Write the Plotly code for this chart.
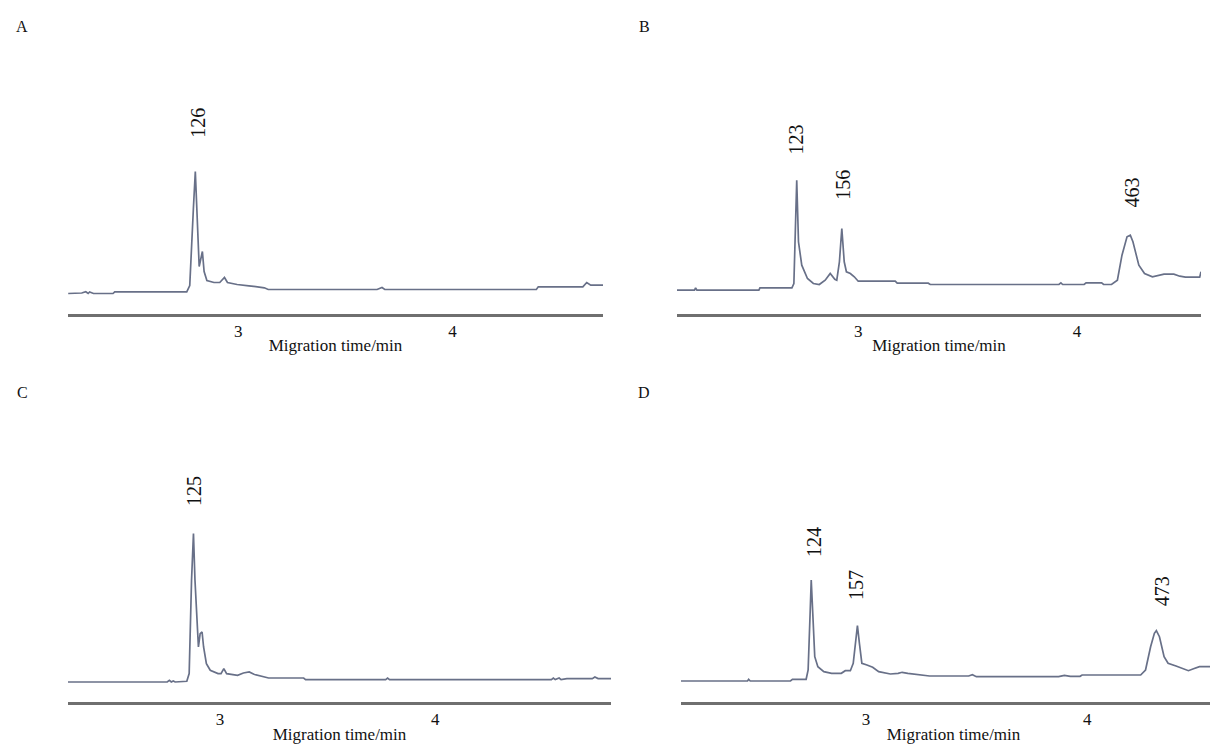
import plotly.graph_objects as go

# ---------------- data (migration time / min, signal / a.u.) ----------------
a_time = [2.207, 2.270, 2.289, 2.300, 2.307, 2.325, 2.416, 2.424, 2.760, 2.774, 2.791, 2.800,
          2.807, 2.814, 2.818, 2.833, 2.841, 2.854, 2.887, 2.914, 2.936, 2.950, 2.995, 3.050,
          3.122, 3.140, 3.648, 3.671, 3.684, 4.391, 4.400, 4.608, 4.626, 4.645, 4.702]
a_signal = [20, 20.5, 21.7, 20, 21.5, 20, 20, 21.7, 21.7, 28, 105, 142,
            105, 52, 47, 62, 42, 33, 31, 31, 36, 31, 29, 27.7,
            25.7, 24, 24, 26, 24, 24, 26.7, 26.7, 31, 28.3, 28.3]

b_time = [2.172, 2.252, 2.257, 2.263, 2.546, 2.551, 2.697, 2.706, 2.719, 2.727, 2.742, 2.768,
          2.795, 2.822, 2.849, 2.872, 2.893, 2.902, 2.914, 2.925, 2.936, 2.946, 2.964, 2.982,
          3.000, 3.169, 3.178, 3.320, 3.329, 3.917, 3.926, 3.934, 4.032, 4.041, 4.112, 4.121,
          4.157, 4.184, 4.205, 4.228, 4.243, 4.255, 4.282, 4.308, 4.344, 4.371, 4.397, 4.442,
          4.469, 4.495, 4.560, 4.566]
b_signal = [23.3, 23.3, 25.7, 23.3, 23.3, 25.7, 25.7, 30, 133.3, 71.7, 48.3, 35,
            30, 29, 33.3, 40, 34.3, 33.3, 51.7, 85, 51.7, 41.7, 40, 36.7,
            32.3, 32.3, 30.3, 30.3, 29, 29, 30.7, 29, 29, 30.7, 30.7, 29,
            29, 33.3, 58.3, 76.7, 78.3, 71.7, 48.3, 40, 36.7, 38.3, 39.3, 39.3,
            37.3, 36.3, 36.3, 41.7]

c_time = [2.294, 2.755, 2.765, 2.774, 2.783, 2.792, 2.846, 2.857, 2.868, 2.877, 2.884, 2.893,
          2.900, 2.908, 2.917, 2.924, 2.937, 2.955, 2.991, 3.005, 3.018, 3.031, 3.082, 3.109,
          3.136, 3.158, 3.190, 3.226, 3.389, 3.398, 3.770, 3.779, 3.788, 4.540, 4.549, 4.558,
          4.576, 4.585, 4.612, 4.730, 4.742, 4.757, 4.817]
c_signal = [20, 20, 21.7, 20, 21, 20, 20.7, 28.4, 121.7, 168.4, 121.7, 75,
            55, 68.4, 70, 55, 38.4, 31.7, 28.4, 28.4, 33.4, 28.4, 26.7, 29,
            30, 27.7, 25.7, 24, 24, 22.4, 22.4, 24, 22.4, 22.4, 24, 22.4,
            24, 22.4, 23.4, 23.4, 25, 23.4, 23.4]

d_time = [2.163, 2.464, 2.469, 2.476, 2.658, 2.667, 2.729, 2.738, 2.747, 2.752, 2.759, 2.768,
          2.782, 2.809, 2.844, 2.888, 2.906, 2.929, 2.942, 2.954, 2.961, 2.970, 2.981, 3.004,
          3.030, 3.057, 3.110, 3.145, 3.163, 3.189, 3.269, 3.287, 3.464, 3.481, 3.499, 3.871,
          3.897, 3.924, 3.968, 3.977, 4.242, 4.264, 4.287, 4.304, 4.313, 4.327, 4.348, 4.366,
          4.402, 4.437, 4.458, 4.481, 4.508, 4.561, 4.588, 4.628]
d_signal = [21, 21, 22.7, 21, 21, 22.7, 22.7, 32, 88.7, 122, 88.7, 45.3,
            35.3, 30.3, 28.7, 28.7, 31.3, 31.3, 38.7, 65.3, 76.3, 58.7, 38.7, 37,
            34.7, 30.3, 28, 28.7, 29.7, 28.7, 27, 26, 26, 27.3, 25.3, 25.3,
            26.7, 25.7, 25.7, 27, 27, 32, 55.3, 68.7, 71.3, 65.3, 45.3, 38.7,
            36, 32.7, 31.3, 33.3, 35.3, 35.3, 33.3, 33.3]

# peak labels: (time, label height, text)
a_peaks_t, a_peaks_y, a_peaks_txt = [2.814], [191], ["126"]
b_peaks_t, b_peaks_y, b_peaks_txt = [2.720, 2.932, 4.255], [174, 129, 121], ["123", "156", "463"]
c_peaks_t, c_peaks_y, c_peaks_txt = [2.879], [211], ["125"]
d_peaks_t, d_peaks_y, d_peaks_txt = [2.765, 2.954, 4.340], [160, 117, 111], ["124", "157", "473"]

panel_letters = ["A", "B", "C", "D"]
x_ticks = [3, 4]
x_title = "Migration time/min"

# ---------------- figure ----------------
W, H = 1218, 745
FONT = "Liberation Serif, Times New Roman, serif"
LINE = "#687088"

panels = [
    dict(t=a_time, s=a_signal, pt=a_peaks_t, py=a_peaks_y, ptxt=a_peaks_txt,
         xdom=(60, 595), ydom=(305.5, 5.5), xr=(2.206, 4.702)),
    dict(t=b_time, s=b_signal, pt=b_peaks_t, py=b_peaks_y, ptxt=b_peaks_txt,
         xdom=(669, 1193), ydom=(305.5, 5.5), xr=(2.172, 4.566)),
    dict(t=c_time, s=c_signal, pt=c_peaks_t, py=c_peaks_y, ptxt=c_peaks_txt,
         xdom=(60, 603), ydom=(694, 394), xr=(2.294, 4.817)),
    dict(t=d_time, s=d_signal, pt=d_peaks_t, py=d_peaks_y, ptxt=d_peaks_txt,
         xdom=(673, 1218), ydom=(694, 394), xr=(2.163, 4.628)),
]
letter_pos = [(14, 18), (636, 18), (14, 384), (636, 384)]

fig = go.Figure()
annotations = []
for i, p in enumerate(panels):
    n = "" if i == 0 else str(i + 1)
    fig.add_trace(go.Scatter(x=p["t"], y=p["s"], mode="lines",
                             line=dict(color=LINE, width=1.7),
                             xaxis="x" + n, yaxis="y" + n, showlegend=False,
                             hoverinfo="x+y"))
    fig.layout["xaxis" + n] = dict(
        domain=[p["xdom"][0] / W, p["xdom"][1] / W],
        range=list(p["xr"]), anchor="y" + n,
        showline=True, linecolor="#6f6f6f", linewidth=2.5,
        showgrid=False, zeroline=False, ticks="",
        tickvals=x_ticks, ticktext=[str(v) for v in x_ticks],
        tickfont=dict(family=FONT, size=17, color="#111"),
        title=dict(text=x_title, font=dict(family=FONT, size=17, color="#111"), standoff=0),
        fixedrange=True,
    )
    fig.layout["yaxis" + n] = dict(
        domain=[1 - p["ydom"][0] / H, 1 - p["ydom"][1] / H],
        range=[0, 300], anchor="x" + n, visible=False, fixedrange=True,
    )
    for t, y, txt in zip(p["pt"], p["py"], p["ptxt"]):
        annotations.append(dict(x=t, y=y, xref="x" + n, yref="y" + n, text=txt,
                                textangle=-90, showarrow=False,
                                font=dict(family=FONT, size=20, color="#111")))
    lx, ly = letter_pos[i]
    annotations.append(dict(x=lx / W, y=1 - ly / H, xref="paper", yref="paper",
                            text=panel_letters[i], showarrow=False,
                            xanchor="center", yanchor="middle",
                            font=dict(family=FONT, size=16, color="#111")))

fig.update_layout(width=W, height=H, margin=dict(l=0, r=0, t=0, b=0),
                  paper_bgcolor="white", plot_bgcolor="white",
                  annotations=annotations, showlegend=False)

fig.write_html("out.html")
